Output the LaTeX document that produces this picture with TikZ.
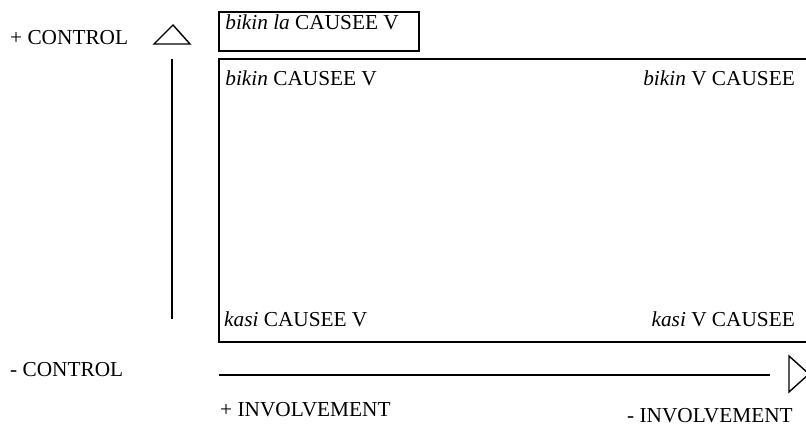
\documentclass[tikz,border=0pt]{standalone}
\usepackage{fontspec}
\setmainfont{Liberation Serif}
\usetikzlibrary{positioning, calc}

\begin{document}
\begin{tikzpicture}[x=1pt, y=-1pt, font=\fontsize{21.3pt}{25pt}\selectfont,
  box/.style={draw, rectangle, line width=1.6pt, inner sep=0pt},
  lbl/.style={inner sep=0pt},
  axis/.style={line width=1.7pt},
  head/.style={line width=1.4pt, line join=miter}]

\useasboundingbox (0,0) rectangle (806,427);
\clip (0,0) rectangle (806,427);

% boxes
\node[box, minimum width=200pt, minimum height=39pt] (lacaus) at (319,31.5) {};
\node[box, minimum width=600pt, minimum height=283pt] (field) at (519,200.5) {};

\node[lbl, anchor=base west] (latxt) at ([xshift=7pt, yshift=-18pt] lacaus.north west) {\textit{bikin la} CAUSEE V};
\node[lbl, anchor=base west] (bcv) at ([xshift=7pt, yshift=-27pt] field.north west) {\textit{bikin} CAUSEE V};
\node[lbl, anchor=base east] (bvc) at (795,86) {\textit{bikin} V CAUSEE};
\node[lbl, anchor=base west] (kcv) at (224,327) {\textit{kasi} CAUSEE V};
\node[lbl, anchor=base east] (kvc) at (795,327) {\textit{kasi} V CAUSEE};

% control axis
\node[lbl, anchor=base west] (pctrl) at (10,45) {+ CONTROL};
\node[lbl, anchor=base west] (mctrl) at (10,377) {- CONTROL};
\coordinate (ctop) at (172,59);
\coordinate (cbot) at (172,319);
\draw[axis] (ctop) -- (cbot);
\draw[head] (154,44) -- (190,44) -- (173,25) -- cycle;

% involvement axis
\node[lbl, anchor=base west] (pinv) at (220,417) {+ INVOLVEMENT};
\node[lbl, anchor=base west] (minv) at (627,423) {- INVOLVEMENT};
\coordinate (ileft) at (219,375);
\coordinate (iright) at (770,375);
\draw[axis] (ileft) -- (iright);
\draw[head] (789,356) -- (809,374) -- (789,392) -- cycle;

\end{tikzpicture}
\end{document}
